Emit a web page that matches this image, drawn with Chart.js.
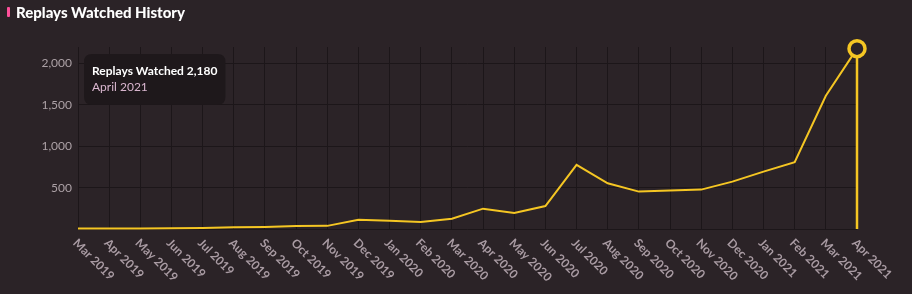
<!DOCTYPE html>
<html>
<head>
<meta charset="utf-8">
<script src="https://cdn.jsdelivr.net/npm/chart.js@4/dist/chart.umd.min.js"></script>
<style>
html, body { margin: 0; padding: 0; background: #2b2327; }
#wrap { position: relative; width: 912px; height: 294px; }
#title { position: absolute; left: 7px; top: 3px; font: 900 15px Lato, sans-serif; color: #ffffff; display: flex; align-items: center; }
#title span { display: inline-block; width: 3px; height: 10px; background: #ff4f9a; margin-right: 6px; border-radius: 1px; }
</style>
</head>
<body>
<div id="wrap">
  <canvas id="replays" width="912" height="294"></canvas>
  <div id="title"><span></span>Replays Watched History</div>
</div>
<script>
const months = ['Mar 2019', 'Apr 2019', 'May 2019', 'Jun 2019', 'Jul 2019', 'Aug 2019', 'Sep 2019',
  'Oct 2019', 'Nov 2019', 'Dec 2019', 'Jan 2020', 'Feb 2020', 'Mar 2020', 'Apr 2020', 'May 2020',
  'Jun 2020', 'Jul 2020', 'Aug 2020', 'Sep 2020', 'Oct 2020', 'Nov 2020', 'Dec 2020', 'Jan 2021',
  'Feb 2021', 'Mar 2021', 'Apr 2021'];
const replaysWatched = [5, 5, 7, 10, 12, 20, 24, 36, 38, 113, 100, 85, 125, 246, 194, 278,
  775, 553, 452, 464, 476, 573, 694, 807, 1610, 2180];
const monthNames = { Jan: 'January', Feb: 'February', Mar: 'March', Apr: 'April', May: 'May', Jun: 'June',
  Jul: 'July', Aug: 'August', Sep: 'September', Oct: 'October', Nov: 'November', Dec: 'December' };
const yTicks = [0, 500, 1000, 1500, 2000];
const yMax = 2200;

const yellow = '#f5c623';
const grid = '#1c1619';

// tooltip sits in the top left of the plot
Chart.Tooltip.positioners.topLeft = function () {
  const a = this.chart.chartArea;
  return { x: a.left + 14, y: a.top + 7 };
};

// x labels rotated downwards, starting under each tick
const xLabels = {
  id: 'xLabels',
  afterDraw(chart) {
    const ctx = chart.ctx, xs = chart.scales.x, bottom = chart.chartArea.bottom;
    ctx.save();
    ctx.font = 'bold 12px Lato';
    ctx.fillStyle = '#a99ba3';
    ctx.textAlign = 'left';
    ctx.textBaseline = 'middle';
    months.forEach((m, i) => {
      ctx.save();
      ctx.translate(xs.getPixelForTick(i) - 3, bottom + 12);
      ctx.rotate(Math.PI / 4);
      ctx.fillText(m, 0, 0);
      ctx.restore();
    });
    ctx.restore();
  }
};

// vertical line from the hovered point down to the axis
const hoverLine = {
  id: 'hoverLine',
  beforeDatasetsDraw(chart) {
    const act = chart.getActiveElements();
    if (!act.length) return;
    const el = act[0].element, ctx = chart.ctx;
    ctx.save();
    ctx.strokeStyle = yellow;
    ctx.lineWidth = 2.5;
    ctx.beginPath();
    ctx.moveTo(el.x, el.y);
    ctx.lineTo(el.x, chart.chartArea.bottom);
    ctx.stroke();
    ctx.restore();
  }
};

var c1 = document.getElementById('replays').getContext('2d');
const chart1 = new Chart(c1, {
  type: 'line',
  data: {
    labels: months,
    datasets: [{
      label: 'Replays Watched',
      data: replaysWatched,
      borderColor: yellow,
      borderWidth: 2,
      tension: 0,
      clip: false,
      pointRadius: 0,
      pointHoverRadius: 8,
      pointHoverBorderWidth: 3.5,
      pointHoverBorderColor: yellow,
      pointHoverBackgroundColor: '#2b2327'
    }]
  },
  options: {
    responsive: false,
    animation: false,
    events: [],
    layout: { padding: { left: 0, top: 47, right: 55, bottom: 65 } },
    scales: {
      x: {
        offset: false,
        grid: { color: grid, drawTicks: false },
        border: { display: false },
        ticks: { display: false }
      },
      y: {
        min: 0,
        max: yMax,
        afterFit: s => { s.width = 78; },
        afterBuildTicks: s => { s.ticks = yTicks.map(v => ({ value: v })); },
        grid: { color: grid, drawTicks: false },
        border: { display: false },
        ticks: {
          padding: 6,
          color: '#aca1a6',
          font: { family: 'Lato', size: 12 },
          callback: v => v === 0 ? '' : v.toLocaleString('en-US')
        }
      }
    },
    plugins: {
      legend: { display: false },
      tooltip: {
        position: 'topLeft',
        xAlign: 'left',
        yAlign: 'top',
        caretSize: 0,
        caretPadding: 0,
        cornerRadius: 8,
        backgroundColor: '#1e181b',
        padding: { x: 8, y: 10 },
        displayColors: false,
        titleFont: { family: 'Lato', size: 12, weight: 'bold' },
        titleColor: '#ffffff',
        titleMarginBottom: 2,
        bodyFont: { family: 'Lato', size: 12 },
        bodyColor: '#d9b6cf',
        callbacks: {
          title: items => 'Replays Watched ' + items[0].parsed.y.toLocaleString('en-US'),
          label: item => {
            const p = item.label.split(' ');
            return monthNames[p[0]] + ' ' + p[1];
          }
        }
      }
    }
  },
  plugins: [xLabels, hoverLine]
});

const last = [{ datasetIndex: 0, index: replaysWatched.length - 1 }];
chart1.setActiveElements(last);
chart1.tooltip.setActiveElements(last, { x: 0, y: 0 });
chart1.update();
</script>
</body>
</html>
